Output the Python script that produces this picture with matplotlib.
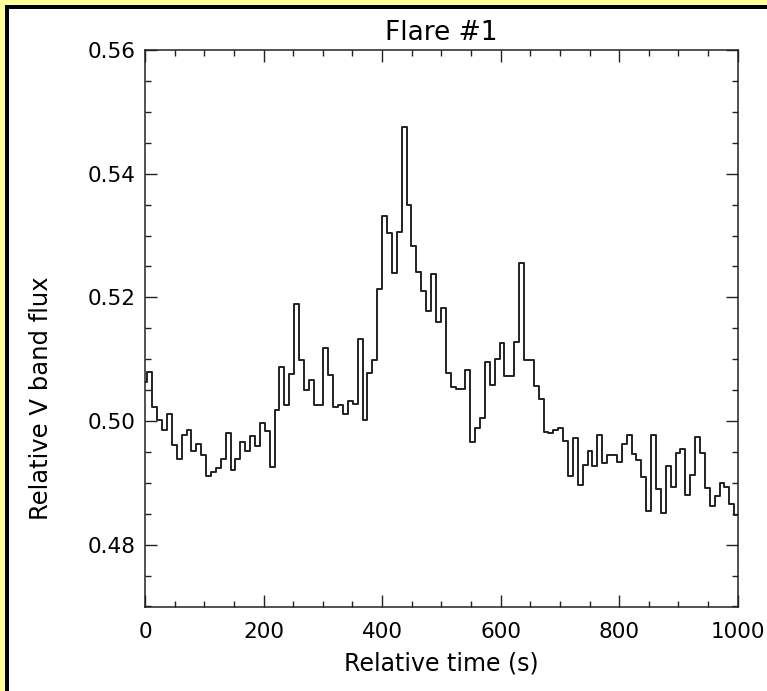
import matplotlib
matplotlib.use("Agg")
import matplotlib.pyplot as plt
import numpy as np
from matplotlib.patches import Rectangle
from matplotlib.ticker import MultipleLocator, FormatStrFormatter


CADENCE_S = 8.25
FLUX = [
    0.5063, 0.5080, 0.5022, 0.5001, 0.4985, 0.5011, 0.4961, 0.4938, 0.4978, 0.4985,
    0.4952, 0.4963, 0.4945, 0.4911, 0.4918, 0.4924, 0.4938, 0.4980, 0.4921, 0.4939,
    0.4966, 0.4952, 0.4976, 0.4960, 0.4997, 0.4984, 0.4925, 0.5018, 0.5088, 0.5026,
    0.5076, 0.5189, 0.5098, 0.5050, 0.5067, 0.5026, 0.5026, 0.5118, 0.5074, 0.5022,
    0.5026, 0.5011, 0.5033, 0.5028, 0.5133, 0.5002, 0.5078, 0.5099, 0.5213, 0.5332,
    0.5304, 0.5240, 0.5305, 0.5476, 0.5350, 0.5283, 0.5241, 0.5211, 0.5178, 0.5237,
    0.5160, 0.5182, 0.5078, 0.5055, 0.5051, 0.5051, 0.5082, 0.4966, 0.4988, 0.5005,
    0.5095, 0.5058, 0.5100, 0.5126, 0.5073, 0.5073, 0.5128, 0.5256, 0.5098, 0.5098,
    0.5056, 0.5035, 0.4983, 0.4981, 0.4985, 0.4989, 0.4968, 0.4911, 0.4973, 0.4896,
    0.4929, 0.4951, 0.4927, 0.4977, 0.4932, 0.4945, 0.4945, 0.4934, 0.4962, 0.4977,
    0.4947, 0.4937, 0.4909, 0.4855, 0.4977, 0.4890, 0.4851, 0.4927, 0.4894, 0.4948,
    0.4955, 0.4881, 0.4913, 0.4974, 0.4948, 0.4891, 0.4862, 0.4879, 0.4900, 0.4894,
    0.4865, 0.4848,
]
TIME_S = np.arange(len(FLUX)) * CADENCE_S

TITLE = "Flare #1"
XLABEL = "Relative time (s)"
YLABEL = "Relative V band flux"
X_RANGE = (0, 1000)
Y_RANGE = (0.47, 0.56)

W_PX, H_PX = 767, 691
INK = "#222222"
YELLOW = "#ffff99"


def main() -> None:
    plt.rcParams["font.family"] = ["DejaVu Sans"]
    fig = plt.figure(figsize=(W_PX / 100, H_PX / 100), dpi=100)
    fig.patch.set_facecolor("white")

    # yellow / black frame, cut off at right and bottom like the source image
    fig.add_artist(Rectangle((0, 0), 1, 1, transform=fig.transFigure,
                             facecolor=YELLOW, edgecolor="none", zorder=-3))
    fig.add_artist(Rectangle((5 / W_PX, 0), 1, 1 - 5 / H_PX, transform=fig.transFigure,
                             facecolor="black", edgecolor="none", zorder=-2))
    fig.add_artist(Rectangle((9 / W_PX, 0), 1, 1 - 9 / H_PX, transform=fig.transFigure,
                             facecolor="white", edgecolor="none", zorder=-1))

    left, right, top, bottom = 145, 737.7, 50, 606.5
    ax = fig.add_axes([left / W_PX, 1 - bottom / H_PX,
                       (right - left) / W_PX, (bottom - top) / H_PX])

    ax.step(TIME_S, FLUX, where="mid", color=INK, lw=1.4)

    ax.set_xlim(*X_RANGE)
    ax.set_ylim(*Y_RANGE)
    ax.xaxis.set_major_locator(MultipleLocator(200))
    ax.xaxis.set_minor_locator(MultipleLocator(50))
    ax.yaxis.set_major_locator(MultipleLocator(0.02))
    ax.yaxis.set_minor_locator(MultipleLocator(0.005))
    ax.yaxis.set_major_formatter(FormatStrFormatter("%.2f"))

    ax.tick_params(which="both", direction="in", top=True, right=True,
                   color=INK, width=1.0, labelsize=15.5, labelcolor="black")
    ax.tick_params(which="major", length=8.3)
    ax.tick_params(which="minor", length=4.2)
    ax.tick_params(axis="x", which="major", pad=11)
    ax.tick_params(axis="y", which="major", pad=6.5)
    for spine in ax.spines.values():
        spine.set_color(INK)
        spine.set_linewidth(1.1)

    ax.set_title(TITLE, fontsize=19, pad=7)
    ax.set_xlabel(XLABEL, fontsize=17)
    ax.xaxis.set_label_coords(0.5, (bottom - 651) / (bottom - top))
    ax.xaxis.label.set_va("top")
    ax.set_ylabel(YLABEL, fontsize=17.5)
    ax.yaxis.set_label_coords((53 - left) / (right - left), (bottom - 398) / (bottom - top))

    fig.savefig("out.png", dpi=100, facecolor=fig.get_facecolor())
    plt.close(fig)


if __name__ == "__main__":
    main()
